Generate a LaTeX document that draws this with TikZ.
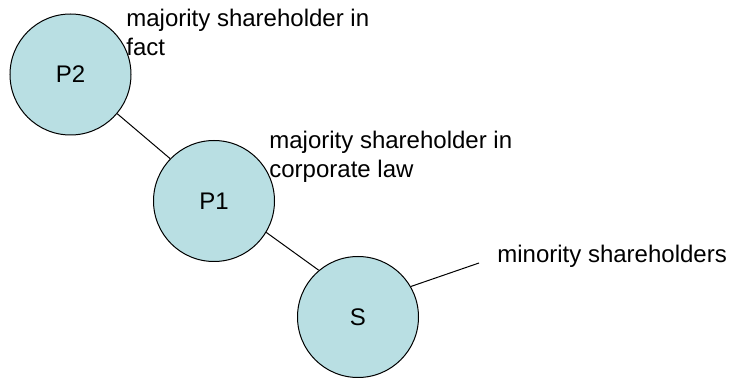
\documentclass[tikz,border=0pt]{standalone}
\usepackage{fontspec}
\setmainfont{Liberation Sans}
\definecolor{shfill}{RGB}{185,223,227}

\begin{document}
\begin{tikzpicture}[x=0.5pt, y=-0.5pt,
    holder/.style={circle, draw, line width=0.5pt, fill=shfill, minimum size=60.5pt, inner sep=0pt, font=\fontsize{12}{14.4}\selectfont},
    note/.style={anchor=base west, inner sep=0pt, align=left, font=\fontsize{12}{14.4}\selectfont},
    link/.style={line width=0.5pt}]
\useasboundingbox (0,0) rectangle (729,379);

\node[holder] (p2) at (70.5,74.5) {P2};
\node[holder] (p1) at (214,201) {P1};
\node[holder] (s) at (358,317) {S};

% base anchor sits on the last line
\node[note] (factnote) at (126,55.5) {majority shareholder in\\fact};
\node[note] (lawnote) at (269,177.7) {majority shareholder in\\corporate law};
\node[note] (minnote) at (497,263) {minority shareholders};
\coordinate (minend) at (479,263);

\draw[link] (p2.-40) -- (p1.136);
\draw[link] (p1.-31) -- (s.130);
\draw[link] (s.30) -- (minend);
\end{tikzpicture}
\end{document}
